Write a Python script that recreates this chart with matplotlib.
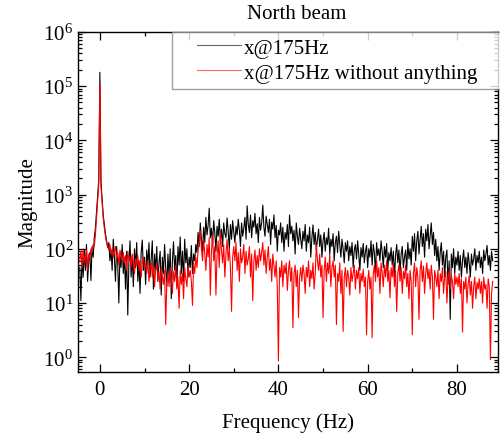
import numpy as np
import matplotlib
matplotlib.use("Agg")
import matplotlib.pyplot as plt
from matplotlib.ticker import LogLocator, FixedLocator, NullFormatter, LogFormatterSciNotation
from matplotlib.legend_handler import HandlerLine2D

plt.rcParams['font.family'] = ['Liberation Serif', 'DejaVu Serif']
plt.rcParams['mathtext.fontset'] = 'stix'

# spectrum magnitudes, 0.25 Hz apart, starting at -4.5 Hz
black_mag = [
    45, 11, 70, 30, 95, 40, 120, 25, 60, 85, 26, 110, 70, 160, 240, 480, 950, 1900,
    180000,
    1700, 850, 420, 280, 190, 140, 105, 130, 60, 95, 40, 150, 70, 25, 110, 55, 10, 80, 45, 120,
    35, 70, 18, 90, 6, 55, 140, 30, 75, 20, 100, 45, 130, 25, 60, 15, 85, 145, 40, 70,
    22, 95, 50, 130, 30, 65, 140, 18, 80, 40, 110, 25, 55, 90, 14, 70, 35, 120, 45, 20,
    80, 30, 100, 12, 60, 135, 40, 75, 20, 110, 50, 165, 35, 90, 25, 150, 55, 100, 30, 70,
    45, 115, 35, 80, 60, 120, 85, 200, 110, 300, 150, 90, 250, 130, 380, 180, 270, 560, 160, 240,
    120, 330, 200, 90, 260, 170, 350, 140, 230, 110, 300, 190, 160, 370, 210, 100, 280, 150, 330, 200,
    130, 260, 180, 350, 220, 110, 300, 170, 240, 380, 150, 620, 280, 200, 420, 160, 330, 250, 450, 190,
    290, 130, 380, 220, 300, 640, 250, 170, 400, 280, 200, 350, 120, 310, 230, 420, 160, 270, 90, 220,
    180, 300, 130, 250, 90, 200, 150, 280, 110, 420, 190, 260, 140, 220, 80, 300, 170, 120, 240, 150,
    100, 210, 140, 280, 90, 180, 130, 250, 70, 160, 275, 120, 200, 95, 150, 230, 110, 180, 70, 140,
    200, 90, 160, 120, 240, 80, 150, 110, 190, 60, 130, 170, 85, 210, 120, 70, 150, 100, 55, 130,
    90, 140, 60, 110, 75, 130, 45, 95, 120, 65, 140, 80, 40, 105, 70, 125, 55, 90, 115, 45,
    100, 70, 140, 50, 120, 85, 35, 130, 75, 100, 60, 140, 90, 45, 110, 70, 125, 40, 85, 60,
    105, 50, 90, 30, 75, 120, 55, 95, 35, 80, 110, 45, 70, 95, 40, 130, 65, 100, 50, 170,
    90, 190, 60, 140, 210, 80, 150, 260, 110, 190, 70, 230, 140, 280, 100, 170, 300, 120, 200, 75,
    150, 60, 110, 40, 85, 130, 50, 90, 30, 70, 95, 22, 60, 5, 80, 45, 100, 35, 70, 50,
    90, 40, 75, 30, 60, 95, 45, 70, 35, 85, 55, 30, 80, 50, 65, 100, 40, 75, 55, 90,
    45, 70, 35, 95, 60, 80, 115, 50, 75, 40, 90, 60,
]

red_mag = [
    60, 90, 45, 100, 70, 55, 95, 40, 80, 65, 100, 85, 120, 110, 180, 380, 750, 1500,
    110000,
    1400, 700, 360, 240, 170, 130, 110, 95, 120, 80, 100, 70, 90, 110, 65, 85, 50, 95, 75, 60,
    85, 55, 75, 40, 90, 60, 70, 45, 80, 55, 35, 65, 50, 75, 40, 60, 30, 55, 70, 45,
    50, 35, 60, 25, 45, 55, 30, 48, 20, 40, 55, 28, 38, 18, 45, 30, 22, 40, 4, 25,
    35, 20, 45, 28, 15, 38, 25, 50, 18, 30, 8, 40, 22, 35, 12, 45, 28, 20, 50, 30,
    40, 25, 9, 55, 35, 70, 45, 90, 130, 215, 100, 60, 150, 80, 40, 120, 70, 160, 14, 90,
    180, 60, 110, 14, 75, 140, 45, 200, 95, 55, 120, 30, 80, 150, 60, 100, 45, 7, 70, 110,
    60, 130, 40, 85, 25, 100, 55, 70, 120, 35, 90, 50, 65, 110, 30, 80, 11, 60, 95, 40,
    75, 45, 100, 60, 85, 130, 50, 95, 35, 70, 110, 40, 65, 25, 80, 50, 30, 60, 20, 0.85,
    45, 30, 60, 20, 50, 35, 55, 17, 40, 60, 25, 45, 3.5, 35, 50, 20, 40, 5.4, 30, 45,
    25, 50, 35, 15, 45, 30, 60, 20, 40, 28, 55, 18, 35, 117, 60, 40, 80, 30, 50, 5.4,
    40, 70, 25, 55, 35, 80, 20, 45, 60, 30, 50, 4, 35, 25, 55, 15, 40, 3, 30, 45,
    20, 40, 30, 14, 45, 25, 35, 50, 18, 40, 28, 45, 15, 35, 25, 42, 20, 30, 2.6, 25,
    40, 18, 30, 2.3, 35, 50, 25, 60, 30, 45, 15, 55, 35, 20, 50, 30, 60, 25, 40, 12.5,
    45, 30, 55, 20, 40, 7, 35, 50, 25, 45, 15, 38, 28, 50, 20, 35, 12, 40, 25, 2.6,
    35, 55, 20, 45, 30, 5, 40, 60, 25, 48, 15, 35, 55, 28, 42, 18, 50, 30, 5, 40,
    30, 20, 40, 12, 35, 25, 45, 15, 30, 38, 10, 28, 40, 18, 32, 25, 12, 35, 22, 30,
    20, 35, 15, 28, 2.9, 25, 18, 30, 10, 22, 32, 14, 25, 8, 20, 30, 12, 24, 18, 28,
    15, 25, 10, 30, 18, 22, 8, 28, 20, 0.9, 15, 25,
]

x_ticks = [0, 20, 40, 60, 80]
x_minor = [10, 30, 50, 70]
y_ticks = [1e0, 1e1, 1e2, 1e3, 1e4, 1e5, 1e6]

f_start = -4.5
f_step = 0.25
black_freq = f_start + f_step * np.arange(len(black_mag))
red_freq = f_start + f_step * np.arange(len(red_mag))


class ShortLineHandler(HandlerLine2D):
    # legend line that starts a bit right of the frame edge
    def create_artists(self, legend, orig_handle, xdescent, ydescent,
                       width, height, fontsize, trans):
        artists = super().create_artists(legend, orig_handle, xdescent, ydescent,
                                         width, height, fontsize, trans)
        for a in artists:
            xd = a.get_xdata()
            yd = a.get_ydata()
            if len(xd) > 1:
                x0, x1 = xd[0], xd[-1]
                a.set_data([x0 + 0.3 * (x1 - x0), x1], [yd[0], yd[0]])
        return artists


fs = 15
fig = plt.figure(figsize=(5.0, 4.39), dpi=100)
ax = fig.add_axes([0.156, 0.150, 0.840, 0.775])

ax.plot(black_freq, black_mag, color='black', lw=0.8, label='x@175Hz')
ax.plot(red_freq, red_mag, color='red', lw=0.8, label='x@175Hz without anything')

ax.set_yscale('log')
ax.set_xlim(-4.9, 89.2)
ax.set_ylim(0.53, 1e6)

ax.xaxis.set_major_locator(FixedLocator(x_ticks))
ax.xaxis.set_minor_locator(FixedLocator(x_minor))
ax.yaxis.set_major_locator(FixedLocator(y_ticks))
ax.yaxis.set_major_formatter(LogFormatterSciNotation())
ax.yaxis.set_minor_locator(LogLocator(base=10, subs=np.arange(2, 10), numticks=20))
ax.yaxis.set_minor_formatter(NullFormatter())

ax.tick_params(which='both', direction='in', top=True, right=True, labelsize=fs, width=0.9)
ax.tick_params(which='major', length=6)
ax.tick_params(which='minor', length=3)
ax.tick_params(axis='x', pad=6)
for s in ax.spines.values():
    s.set_linewidth(1.0)

ax.set_xlabel('Frequency (Hz)', fontsize=fs, labelpad=9)
ax.set_ylabel('Magnitude', fontsize=fs)
ax.set_title('North beam', fontsize=fs, pad=10, x=0.52)

leg = ax.legend(loc='upper left', bbox_to_anchor=(0.224, 0.0, 0.79, 1.0), mode='expand',
                fontsize=fs, borderaxespad=0, fancybox=False, handlelength=3.0,
                handletextpad=0.15, borderpad=0.3, labelspacing=0.25,
                handler_map={plt.Line2D: ShortLineHandler()})
leg.get_frame().set_edgecolor('#888888')
leg.get_frame().set_linewidth(1.0)
leg.set_clip_on(False)
for line in leg.get_lines():
    line.set_alpha(0.6)

fig.savefig('out.png', dpi=100)
